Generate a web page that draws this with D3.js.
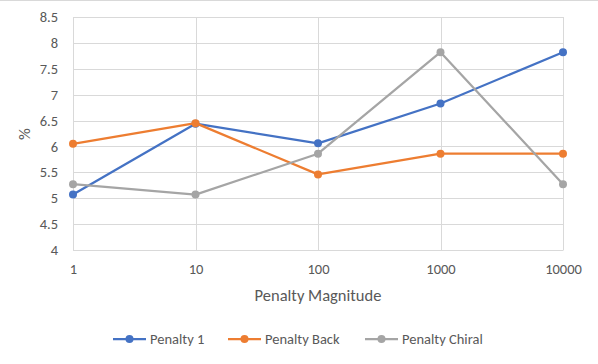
<!DOCTYPE html>
<html>
<head>
<meta charset="utf-8">
<script src="https://cdn.jsdelivr.net/npm/d3@7"></script>
<style>
  body { margin: 0; background: #fff; }
  text { font-family: Calibri, Carlito, "Open Sans", sans-serif; fill: #595959; }
</style>
</head>
<body>
<div id="chart"></div>
<script>
// data
var magnitudes = ["1", "10", "100", "1000", "10000"];
var penalty1 = [5.07, 6.44, 6.06, 6.83, 7.82];
var penaltyBack = [6.05, 6.45, 5.46, 5.86, 5.86];
var penaltyChiral = [5.27, 5.07, 5.86, 7.82, 5.27];
var yTicks = [4, 4.5, 5, 5.5, 6, 6.5, 7, 7.5, 8, 8.5];

var seriesNames = ["Penalty 1", "Penalty Back", "Penalty Chiral"];
var seriesColors = ["#4472C4", "#ED7D31", "#A5A5A5"];
var allSeries = [penalty1, penaltyBack, penaltyChiral];

var svgWidth = 598, svgHeight = 364;
var margin = { top: 17, right: 35, bottom: 114, left: 73 };
var width = svgWidth - margin.left - margin.right;
var height = svgHeight - margin.top - margin.bottom;

var svg = d3.select("#chart").append("svg")
  .attr("width", svgWidth)
  .attr("height", svgHeight);

// chart border at top
svg.append("line")
  .attr("x1", 0).attr("x2", svgWidth)
  .attr("y1", 0.5).attr("y2", 0.5)
  .attr("stroke", "#d9d9d9");

var chartGroup = svg.append("g")
  .attr("transform", `translate(${margin.left}, ${margin.top})`);

var xScale = d3.scalePoint().domain(magnitudes).range([0, width]);
var yScale = d3.scaleLinear().domain([4, 8.5]).range([height, 0]);

// horizontal gridlines
chartGroup.append("g")
  .selectAll("line")
  .data(yTicks)
  .enter()
  .append("line")
  .attr("x1", 0).attr("x2", width)
  .attr("y1", d => Math.round(yScale(d)) + 0.5)
  .attr("y2", d => Math.round(yScale(d)) + 0.5)
  .attr("stroke", "#d9d9d9")
  .attr("stroke-width", 1);

// vertical gridlines
chartGroup.append("g")
  .selectAll("line")
  .data(magnitudes)
  .enter()
  .append("line")
  .attr("x1", d => Math.round(xScale(d)) + 0.5)
  .attr("x2", d => Math.round(xScale(d)) + 0.5)
  .attr("y1", 0).attr("y2", height)
  .attr("stroke", "#d9d9d9")
  .attr("stroke-width", 1);

// y axis
var leftAxis = d3.axisLeft(yScale).tickValues(yTicks).tickSize(0).tickPadding(15)
  .tickFormat(d => d3.format("")(d));
chartGroup.append("g")
  .call(leftAxis)
  .call(g => g.select(".domain").remove())
  .selectAll("text")
  .attr("font-size", "14.5px");

// x axis
var bottomAxis = d3.axisBottom(xScale).tickSize(0).tickPadding(14);
chartGroup.append("g")
  .attr("transform", `translate(0, ${height})`)
  .call(bottomAxis)
  .call(g => g.select(".domain").attr("stroke", "#d9d9d9"))
  .selectAll("text")
  .attr("font-size", "14.5px");

// axis titles
chartGroup.append("text")
  .attr("x", width / 2)
  .attr("y", height + 51)
  .attr("text-anchor", "middle")
  .attr("font-size", "16.5px")
  .text("Penalty Magnitude");

svg.append("text")
  .attr("transform", `translate(30, 134) rotate(-90)`)
  .attr("text-anchor", "middle")
  .attr("font-size", "16.5px")
  .text("%");

// lines and markers
var line = d3.line()
  .x((d, i) => xScale(magnitudes[i]))
  .y(d => yScale(d));

allSeries.forEach(function (values, s) {
  chartGroup.append("path")
    .datum(values)
    .attr("d", line)
    .attr("fill", "none")
    .attr("stroke", seriesColors[s])
    .attr("stroke-width", 2.25)
    .attr("stroke-linejoin", "round");

  chartGroup.selectAll(".pt" + s)
    .data(values)
    .enter()
    .append("circle")
    .attr("class", "pt" + s)
    .attr("cx", (d, i) => xScale(magnitudes[i]))
    .attr("cy", d => yScale(d))
    .attr("r", 4)
    .attr("fill", seriesColors[s]);
});

// legend
var legendX = [113, 228, 365];
var legend = svg.append("g").attr("transform", "translate(0, 339)");
seriesNames.forEach(function (name, s) {
  var g = legend.append("g").attr("transform", `translate(${legendX[s]}, 0)`);
  g.append("line")
    .attr("x1", 0).attr("x2", 33)
    .attr("y1", 0).attr("y2", 0)
    .attr("stroke", seriesColors[s])
    .attr("stroke-width", 2.25);
  g.append("circle")
    .attr("cx", 16.5).attr("cy", 0).attr("r", 4)
    .attr("fill", seriesColors[s]);
  g.append("text")
    .attr("x", 37)
    .attr("y", 0)
    .attr("dy", "0.35em")
    .attr("font-size", "14.5px")
    .text(name);
});
</script>
</body>
</html>
